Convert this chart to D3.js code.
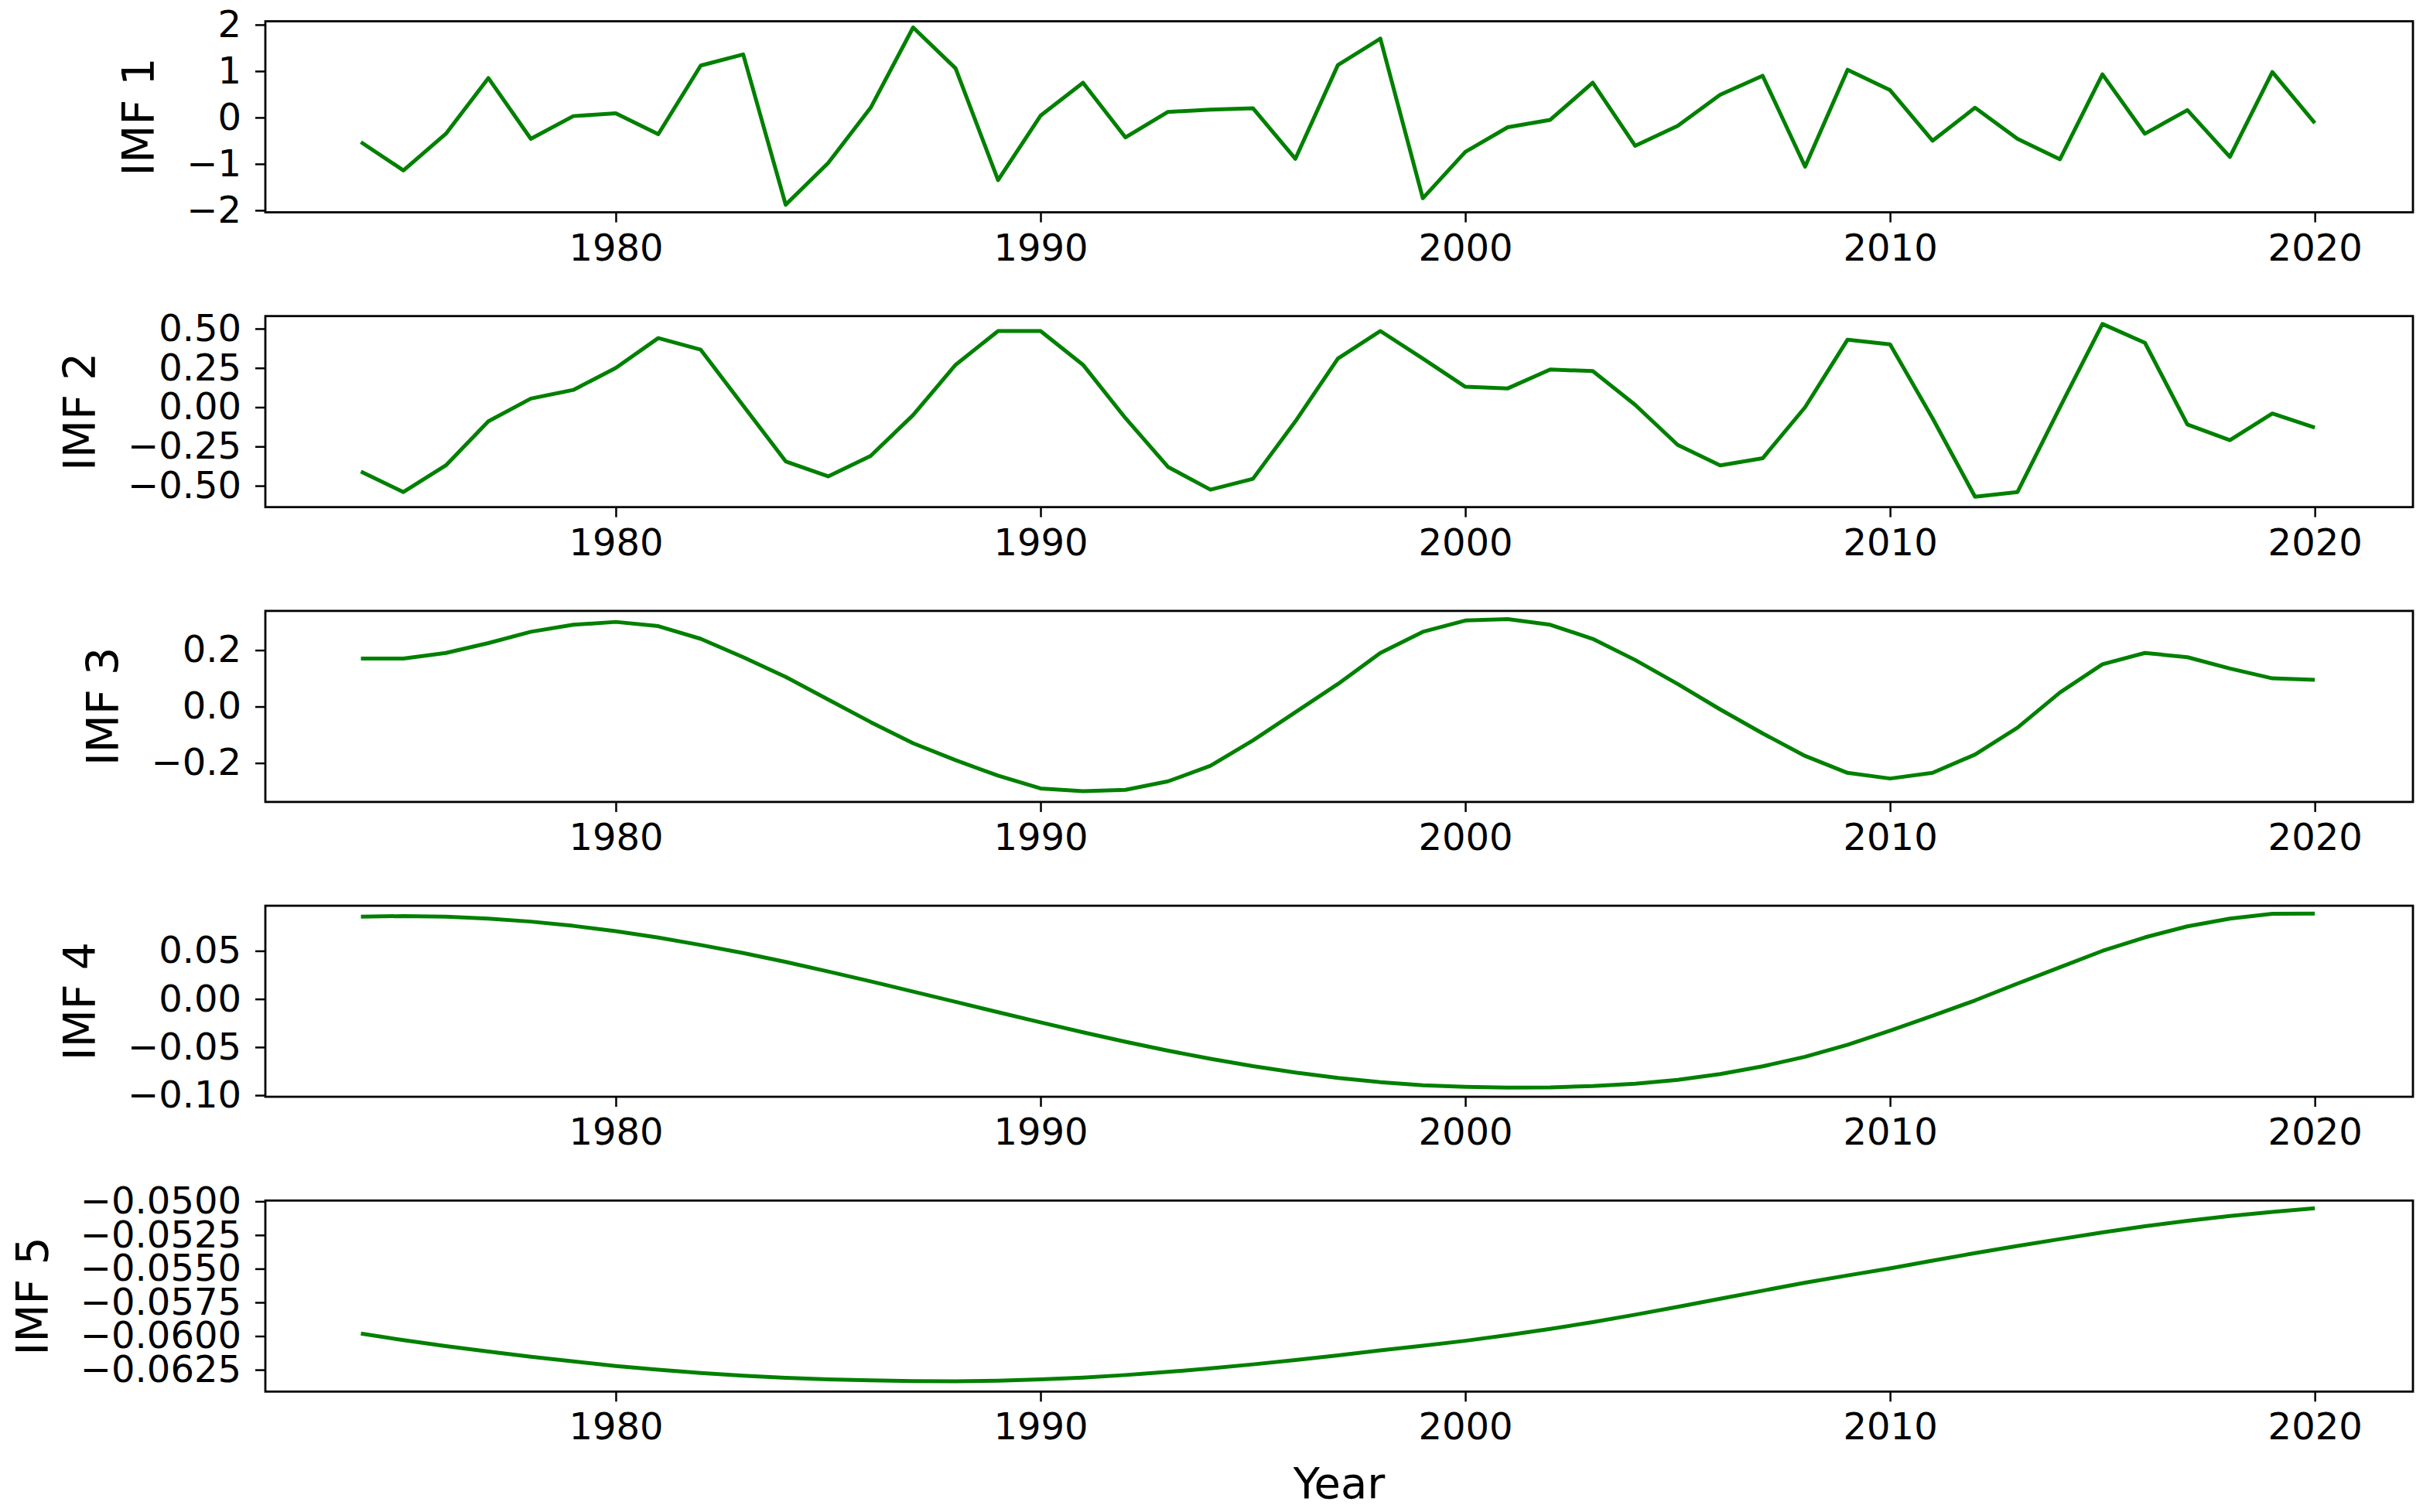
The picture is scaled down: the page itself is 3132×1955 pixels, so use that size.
<!DOCTYPE html>
<html>
<head>
<meta charset="utf-8">
<script src="https://cdn.jsdelivr.net/npm/d3@7"></script>
<style>
  html, body { margin: 0; padding: 0; background: #fff; }
  svg { display: block; font-family: "DejaVu Sans", sans-serif; }
</style>
</head>
<body>
<svg id="chart" width="3132" height="1955"></svg>
<script>
const years = [1974,1975,1976,1977,1978,1979,1980,1981,1982,1983,
  1984,1985,1986,1987,1988,1989,1990,1991,1992,1993,
  1994,1995,1996,1997,1998,1999,2000,2001,2002,2003,
  2004,2005,2006,2007,2008,2009,2010,2011,2012,2013,
  2014,2015,2016,2017,2018,2019,2020];

const imf1 = [-0.53,-1.14,-0.35,0.85,-0.46,0.03,0.09,-0.36,1.12,1.36,
  -1.88,-0.98,0.21,1.94,1.06,-1.35,0.04,0.75,-0.43,0.12,
  0.17,0.20,-0.89,1.13,1.70,-1.74,-0.74,-0.21,-0.05,0.75,
  -0.61,-0.18,0.49,0.90,-1.06,1.03,0.59,-0.50,0.21,-0.46,
  -0.90,0.93,-0.35,0.16,-0.85,0.98,-0.12];

const imf2 = [-0.41,-0.54,-0.37,-0.09,0.055,0.11,0.25,0.44,0.366,0.01,
  -0.345,-0.44,-0.31,-0.05,0.27,0.485,0.485,0.27,-0.07,-0.38,
  -0.525,-0.456,-0.09,0.31,0.485,0.31,0.13,0.12,0.24,0.23,
  0.015,-0.24,-0.37,-0.325,0.0,0.43,0.40,-0.07,-0.57,-0.54,
  0.0,0.53,0.41,-0.11,-0.21,-0.04,-0.13];

const imf3 = [0.17,0.17,0.19,0.225,0.265,0.29,0.30,0.285,0.24,0.175,
  0.105,0.025,-0.055,-0.13,-0.19,-0.245,-0.29,-0.30,-0.295,-0.265,
  -0.21,-0.12,-0.02,0.08,0.19,0.265,0.305,0.31,0.29,0.24,
  0.165,0.08,-0.01,-0.095,-0.175,-0.235,-0.255,-0.235,-0.17,-0.075,
  0.05,0.15,0.19,0.175,0.135,0.10,0.095];

const imf4 = [0.0855,0.0862,0.0855,0.0836,0.0804,0.0760,0.0704,0.0638,0.0561,0.0477,
  0.0385,0.0286,0.0183,0.0077,-0.0030,-0.0137,-0.0243,-0.0346,-0.0445,-0.0537,
  -0.0621,-0.0698,-0.0764,-0.0820,-0.0864,-0.0896,-0.0912,-0.0920,-0.0918,-0.0905,
  -0.0880,-0.0840,-0.0780,-0.0700,-0.0600,-0.0475,-0.0330,-0.0175,-0.0015,0.0160,
  0.0330,0.0500,0.0640,0.0755,0.0835,0.0885,0.0888];

const imf5 = [-0.05981,-0.06030,-0.06075,-0.06115,-0.06153,-0.06188,-0.06222,-0.06250,-0.06274,-0.06294,
  -0.06310,-0.06321,-0.06329,-0.06334,-0.06335,-0.06331,-0.06322,-0.06308,-0.06289,-0.06266,
  -0.06240,-0.06210,-0.06178,-0.06143,-0.06106,-0.06071,-0.06035,-0.05993,-0.05947,-0.05896,
  -0.05841,-0.05783,-0.05723,-0.05663,-0.05604,-0.05550,-0.05498,-0.05440,-0.05384,-0.05331,
  -0.05280,-0.05231,-0.05185,-0.05145,-0.05108,-0.05078,-0.05051];

const xTicks = [1980, 1990, 2000, 2010, 2020];
const yTicks1 = [-2, -1, 0, 1, 2];
const yTicks2 = [-0.50, -0.25, 0.00, 0.25, 0.50];
const yTicks3 = [-0.2, 0.0, 0.2];
const yTicks4 = [-0.10, -0.05, 0.00, 0.05];
const yTicks5 = [-0.0625, -0.0600, -0.0575, -0.0550, -0.0525, -0.0500];
const labels = ["IMF 1", "IMF 2", "IMF 3", "IMF 4", "IMF 5"];

const panels = [
  {label: labels[0], values: imf1, ticks: yTicks1, fmt: d3.format("d"),   domain: [-2.043, 2.074]},
  {label: labels[1], values: imf2, ticks: yTicks2, fmt: d3.format(".2f"), domain: [-0.636, 0.580]},
  {label: labels[2], values: imf3, ticks: yTicks3, fmt: d3.format(".1f"), domain: [-0.338, 0.339]},
  {label: labels[3], values: imf4, ticks: yTicks4, fmt: d3.format(".2f"), domain: [-0.1016, 0.0969]},
  {label: labels[4], values: imf5, ticks: yTicks5, fmt: d3.format(".4f"), domain: [-0.06412, -0.04994]}
];

const svg = d3.select("#chart");
svg.append("rect").attr("width", 3132).attr("height", 1955).attr("fill", "#fff");

const left = 343, right = 3119;
const firstTop = 27.5, step = 381.2, ph = 247;

const x = d3.scaleLinear().domain([1971.75, 2022.31]).range([left, right]);

panels.forEach((p, i) => {
  const top = firstTop + i * step;
  const bottom = top + ph;
  const y = d3.scaleLinear().domain(p.domain).range([bottom, top]);
  const g = svg.append("g");

  const line = d3.line().x((d, j) => x(years[j])).y(d => y(d));
  g.append("path")
    .datum(p.values)
    .attr("fill", "none")
    .attr("stroke", "green")
    .attr("stroke-width", 5)
    .attr("stroke-linejoin", "round")
    .attr("d", line);

  const xa = g.append("g")
    .attr("transform", `translate(0,${bottom})`)
    .call(d3.axisBottom(x).tickValues(xTicks).tickFormat(d3.format("d")).tickSize(13).tickPadding(15));
  const ya = g.append("g")
    .attr("transform", `translate(${left},0)`)
    .call(d3.axisLeft(y).tickValues(p.ticks).tickFormat(p.fmt).tickSize(13).tickPadding(18));

  [xa, ya].forEach(a => {
    a.select(".domain").remove();
    a.selectAll(".tick line").attr("stroke", "#000").attr("stroke-width", 2.5);
    a.selectAll(".tick text").attr("fill", "#000")
      .style("font-family", "'DejaVu Sans', sans-serif").style("font-size", "48px");
  });

  g.append("rect")
    .attr("x", left).attr("y", top)
    .attr("width", right - left).attr("height", ph)
    .attr("fill", "none").attr("stroke", "#000").attr("stroke-width", 2.8);

  const bb = ya.node().getBBox();
  const lx = left + bb.x - 42;
  g.append("text")
    .attr("transform", `translate(${lx},${(top + bottom) / 2}) rotate(-90)`)
    .attr("text-anchor", "middle")
    .attr("fill", "#000")
    .style("font-family", "'DejaVu Sans', sans-serif")
    .style("font-size", "57px")
    .text(p.label);
});

svg.append("text")
  .attr("x", (left + right) / 2)
  .attr("y", 1937)
  .attr("text-anchor", "middle")
  .attr("fill", "#000")
  .style("font-family", "'DejaVu Sans', sans-serif")
  .style("font-size", "56px")
  .text("Year");
</script>
</body>
</html>
